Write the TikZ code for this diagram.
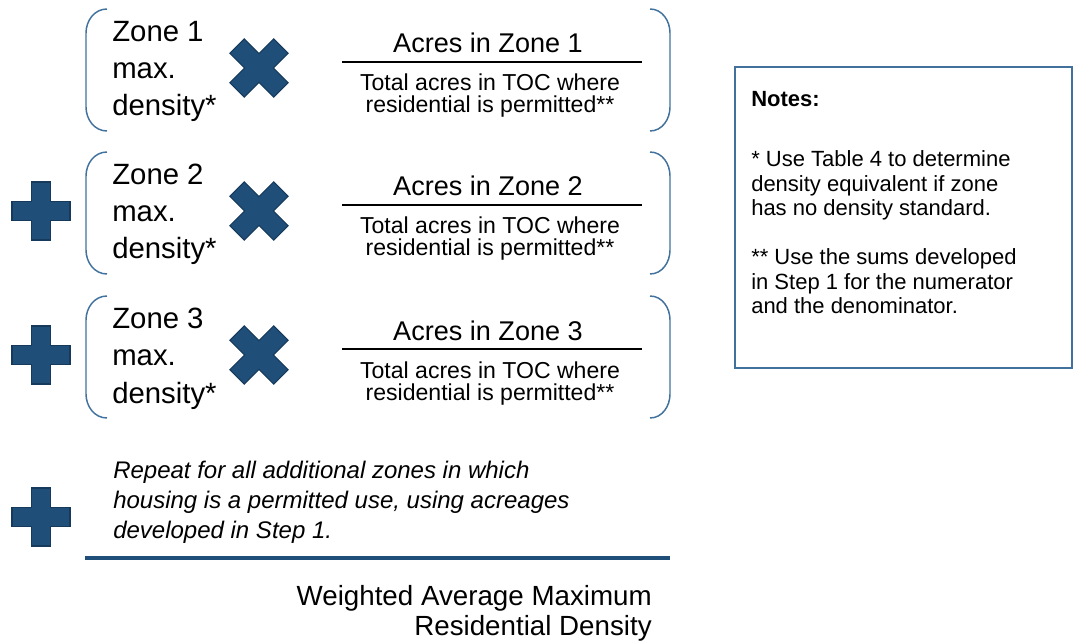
\documentclass[tikz,border=0pt]{standalone}
\usepackage{fontspec}
\setmainfont{Liberation Sans}
\definecolor{navy}{RGB}{31,78,121}
\definecolor{navyedge}{RGB}{22,58,92}
\definecolor{steel}{RGB}{65,113,156}

\begin{document}
\begin{tikzpicture}[x=0.75pt,y=-0.75pt,
  % multi-line nodes sit on the baseline of their last line
  zonetext/.style={anchor=base west,inner sep=0,align=left,font=\fontsize{22}{27.8}\selectfont},
  numtext/.style={anchor=base,inner sep=0,font=\fontsize{20.3}{24}\selectfont},
  dentext/.style={anchor=base,inner sep=0,align=center,font=\fontsize{17.3}{16.5}\selectfont},
  notetext/.style={anchor=base west,inner sep=0,align=left,font=\fontsize{16.5}{18.4}\selectfont},
  fracbar/.style={line width=2.2pt},
  bracket/.style={draw=steel,line width=1.1pt},
  signfill/.style={fill=navy,draw=navyedge,line width=0.8pt,line join=miter},
  plussign/.pic={
    \filldraw[signfill] (-29,-9.5) -- (-9.5,-9.5) -- (-9.5,-29) -- (9.5,-29)
      -- (9.5,-9.5) -- (29,-9.5) -- (29,9.5) -- (9.5,9.5) -- (9.5,29)
      -- (-9.5,29) -- (-9.5,9.5) -- (-29,9.5) -- cycle;
  }]
  \useasboundingbox (0,0) rectangle (1073,641);

  % row 1
  \draw[bracket] (107,9) to[out=180,in=90] (86,33) -- (86,107) to[out=-90,in=180] (107,131);
  \draw[bracket] (650,9) to[out=0,in=90] (670,33) -- (670,107) to[out=-90,in=0] (650,131);
  \node[zonetext] (z1) at (112,116) {Zone 1\\max.\\density*};
  \pic[rotate=45,scale=1.07] (x1) at (259,68) {plussign};
  \coordinate (b1l) at (342,62);
  \coordinate (b1r) at (642,62);
  \draw[fracbar] (b1l) -- (b1r);
  \node[numtext] (num1) at (488,53) {Acres in Zone 1};
  \node[dentext] (den1) at (490,113) {Total acres in TOC where\\residential is permitted**};

  % row 2
  \pic (p2) at (41,211) {plussign};
  \draw[bracket] (107,152) to[out=180,in=90] (86,176) -- (86,250) to[out=-90,in=180] (107,274);
  \draw[bracket] (650,152) to[out=0,in=90] (670,176) -- (670,250) to[out=-90,in=0] (650,274);
  \node[zonetext] (z2) at (112,259) {Zone 2\\max.\\density*};
  \pic[rotate=45,scale=1.07] (x2) at (259,211) {plussign};
  \coordinate (b2l) at (342,205);
  \coordinate (b2r) at (642,205);
  \draw[fracbar] (b2l) -- (b2r);
  \node[numtext] (num2) at (488,196) {Acres in Zone 2};
  \node[dentext] (den2) at (490,256) {Total acres in TOC where\\residential is permitted**};

  % row 3
  \pic (p3) at (41,355) {plussign};
  \draw[bracket] (107,296) to[out=180,in=90] (86,320) -- (86,394) to[out=-90,in=180] (107,418);
  \draw[bracket] (650,296) to[out=0,in=90] (670,320) -- (670,394) to[out=-90,in=0] (650,418);
  \node[zonetext] (z3) at (112,403) {Zone 3\\max.\\density*};
  \pic[rotate=45,scale=1.07] (x3) at (259,355) {plussign};
  \coordinate (b3l) at (342,349);
  \coordinate (b3r) at (642,349);
  \draw[fracbar] (b3l) -- (b3r);
  \node[numtext] (num3) at (488,340) {Acres in Zone 3};
  \node[dentext] (den3) at (490,400) {Total acres in TOC where\\residential is permitted**};

  % remaining zones
  \pic (p4) at (41,517) {plussign};
  \node[anchor=base west,inner sep=0,align=left,font=\fontsize{18}{22.5}\selectfont\itshape]
    (rep) at (113,538) {Repeat for all additional zones in which\\housing is a permitted use, using acreages\\developed in Step 1.};

  % result
  \coordinate (sl) at (85,558);
  \coordinate (sr) at (670,558);
  \draw[navy,line width=2.6pt] (sl) -- (sr);
  \node[anchor=base east,inner sep=0,align=right,font=\fontsize{20.8}{22.5}\selectfont]
    (res) at (652,635) {Weighted Average Maximum\\Residential Density};

  % notes
  \draw[steel,line width=1.1pt] (735,67) rectangle (1072,368);
  \node[notetext,font=\fontsize{16.5}{18.4}\selectfont\bfseries] (nt) at (751,107) {Notes:};
  \node[notetext] (n1) at (751,216) {* Use Table 4 to determine\\density equivalent if zone\\has no density standard.};
  \node[notetext] (n2) at (751,314) {** Use the sums developed\\in Step 1 for the numerator\\and the denominator.};
\end{tikzpicture}
\end{document}
